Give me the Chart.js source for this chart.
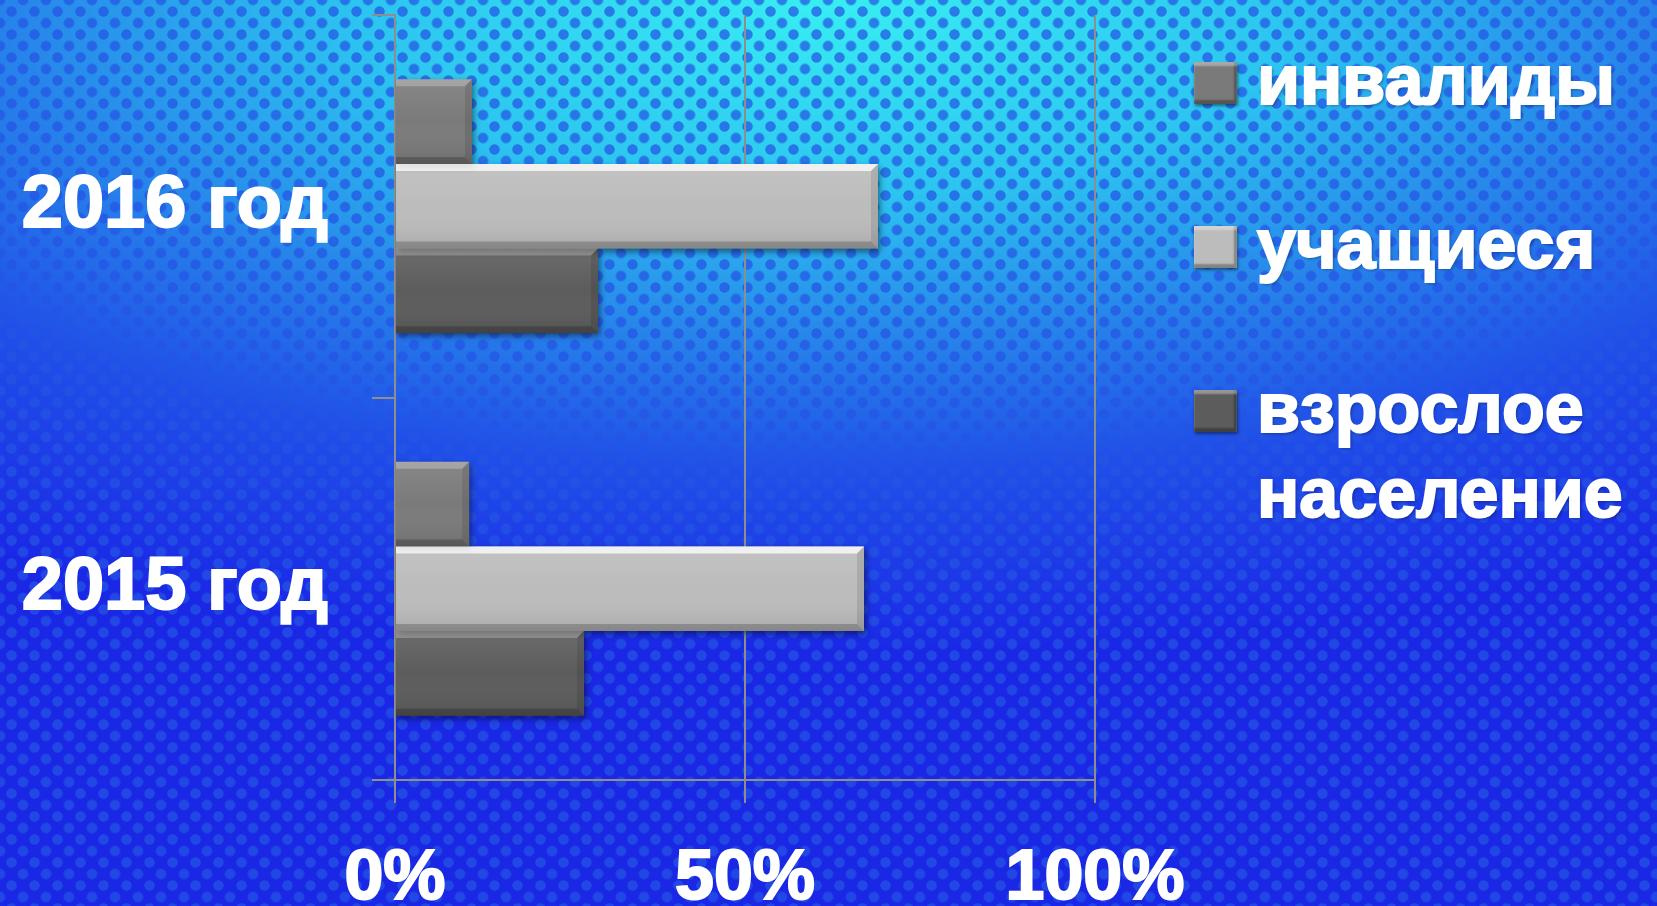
<!DOCTYPE html>
<html>
<head>
<meta charset="utf-8">
<script src="https://cdn.jsdelivr.net/npm/chart.js@4.4.1/dist/chart.umd.min.js"></script>
<style>
  html, body { margin: 0; padding: 0; }
  body {
    width: 1657px; height: 906px; overflow: hidden; position: relative;
    background:
      radial-gradient(circle at 50% 50%, rgba(36,84,228,0.72) 0 4.8px, transparent 5.6px) 0 0 / 23px 23px,
      radial-gradient(circle at 50% 50%, rgba(36,84,228,0.72) 0 4.8px, transparent 5.6px) 11.5px 11.5px / 23px 23px,
      radial-gradient(ellipse 95% 72% at 50% 0%, #38eef2 0%, #2cc4f0 30%, #2784ea 52%, #2050e8 72%, #1a28e6 100%);
    font-family: "Liberation Sans", Arial, sans-serif;
  }
  #wrap { position: absolute; left: 0; top: 0; width: 1657px; height: 906px; }
  #legend { position: absolute; left: 1194px; top: 38px; }
  .item { display: flex; align-items: flex-start; margin-bottom: 79px; }
  .sw { width: 43px; height: 42px; margin-top: 24px; margin-right: 20px; flex: none;
        box-shadow: inset 0 4px 2px rgba(255,255,255,0.35), inset -3px -4px 2px rgba(0,0,0,0.3), 1px 2px 3px rgba(0,0,0,0.45); }
  .tx { color: #fff; font-weight: bold; font-size: 70px; line-height: 85px; width: 400px;
        -webkit-text-stroke: 2px #fff;
        text-shadow: 2px 2px 3px rgba(0,0,0,0.3); }
</style>
</head>
<body>
<div id="wrap"><canvas id="c" width="1657" height="906"></canvas></div>
<div id="legend"></div>
<script>
// ---- data ----
const categories = ['2016 год', '2015 год'];
const seriesNames = ['инвалиды', 'учащиеся', 'взрослое население'];
const invalidy = [11, 10.6];
const uchashchiesya = [69, 67];
const vzroslye = [29, 27];
const xTicks = [0, 50, 100];
const seriesColors = ['#7a7a7a', '#bcbcbc', '#5c5c5c'];

const gridColor = '#8e8e8e';

const bevelPlugin = {
  id: 'bevel',
  beforeDatasetsDraw(chart) {
    const ctx = chart.ctx;
    ctx.save();
    ctx.shadowColor = 'rgba(0,0,0,0.45)';
    ctx.shadowBlur = 6;
    ctx.shadowOffsetX = 2;
    ctx.shadowOffsetY = 3;
  },
  afterDatasetsDraw(chart) {
    const ctx = chart.ctx;
    ctx.restore();
    ctx.save();
    chart.data.datasets.forEach((ds, di) => {
      const meta = chart.getDatasetMeta(di);
      meta.data.forEach(el => {
        const p = el.getProps(['x', 'y', 'base', 'height'], true);
        const l = Math.min(p.base, p.x), r = Math.max(p.base, p.x);
        const t = p.y - p.height / 2, b = p.y + p.height / 2;
        const bv = 7;
        const g = ctx.createLinearGradient(0, t, 0, b);
        g.addColorStop(0, 'rgba(255,255,255,0.10)');
        g.addColorStop(0.5, 'rgba(255,255,255,0.0)');
        g.addColorStop(1, 'rgba(0,0,0,0.10)');
        ctx.fillStyle = g;
        ctx.fillRect(l, t, r - l, b - t);
        ctx.beginPath();
        ctx.moveTo(l, t); ctx.lineTo(r, t); ctx.lineTo(r - bv, t + bv); ctx.lineTo(l, t + bv); ctx.closePath();
        ctx.fillStyle = di === 1 ? 'rgba(255,255,255,0.75)' : 'rgba(255,255,255,0.25)';
        ctx.fill();
        ctx.beginPath();
        ctx.moveTo(r, t); ctx.lineTo(r, b); ctx.lineTo(r - bv, b - bv); ctx.lineTo(r - bv, t + bv); ctx.closePath();
        ctx.fillStyle = 'rgba(0,0,0,0.10)';
        ctx.fill();
        ctx.beginPath();
        ctx.moveTo(l, b); ctx.lineTo(r, b); ctx.lineTo(r - bv, b - bv); ctx.lineTo(l, b - bv); ctx.closePath();
        ctx.fillStyle = 'rgba(0,0,0,0.20)';
        ctx.fill();
      });
    });
    ctx.restore();
  }
};

const seriesData = [invalidy, uchashchiesya, vzroslye];
const chart = new Chart(document.getElementById('c'), {
  type: 'bar',
  data: {
    labels: categories,
    datasets: seriesNames.map((n, i) => ({
      label: n,
      data: seriesData[i],
      backgroundColor: seriesColors[i],
      borderWidth: 0,
      categoryPercentage: 0.664,
      barPercentage: 1.0
    }))
  },
  options: {
    indexAxis: 'y',
    responsive: false,
    animation: false,
    devicePixelRatio: 1,
    layout: { padding: { top: 15, right: 562, bottom: 0, left: 0 } },
    plugins: { legend: { display: false }, tooltip: { enabled: false } },
    scales: {
      x: {
        min: 0, max: 100,
        afterBuildTicks(scale) { scale.ticks = xTicks.map(v => ({ value: v })); },
        afterFit(scale) {
          scale.height = 126;
          scale.paddingTop = 0; scale.paddingBottom = 0; scale.paddingLeft = 0; scale.paddingRight = 0;
        },
        ticks: {
          color: '#ffffff',
          font: { family: 'Liberation Sans', weight: 'bold', size: 70 },
          textStrokeColor: '#ffffff',
          textStrokeWidth: 2,
          padding: 35,
          maxRotation: 0,
          callback: v => v + '%'
        },
        grid: { color: gridColor, lineWidth: 2, tickLength: 23, drawOnChartArea: true },
        border: { display: true, color: gridColor, width: 2 }
      },
      y: {
        afterFit(scale) {
          scale.width = 395;
          scale.paddingTop = 0; scale.paddingBottom = 0; scale.paddingLeft = 0; scale.paddingRight = 0;
        },
        ticks: {
          color: '#ffffff',
          font: { family: 'Liberation Sans', weight: 'bold', size: 74 },
          textStrokeColor: '#ffffff',
          textStrokeWidth: 2,
          padding: 44
        },
        grid: { color: gridColor, lineWidth: 2, tickLength: 23, drawOnChartArea: false, offset: true },
        border: { display: true, color: gridColor, width: 2 }
      }
    }
  },
  plugins: [bevelPlugin]
});

const legend = document.getElementById('legend');
chart.data.datasets.forEach(ds => {
  const it = document.createElement('div'); it.className = 'item';
  const sw = document.createElement('div'); sw.className = 'sw'; sw.style.background = ds.backgroundColor;
  const tx = document.createElement('div'); tx.className = 'tx'; tx.textContent = ds.label;
  it.appendChild(sw); it.appendChild(tx); legend.appendChild(it);
});
</script>
</body>
</html>
